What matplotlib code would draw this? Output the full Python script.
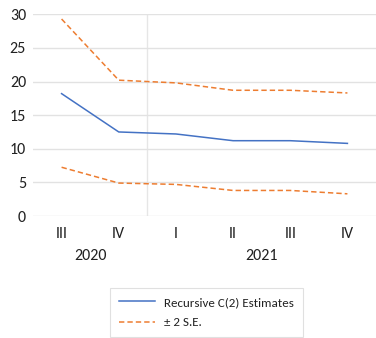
import matplotlib
matplotlib.use("Agg")
import matplotlib.pyplot as plt
from matplotlib.transforms import blended_transform_factory

quarters = ["III", "IV", "I", "II", "III", "IV"]
years = ["2020", "2021"]
estimate = [18.2, 12.5, 12.2, 11.2, 11.2, 10.8]
upper = [29.3, 20.2, 19.8, 18.7, 18.7, 18.3]
lower = [7.25, 4.9, 4.7, 3.8, 3.8, 3.3]

plt.rcParams['font.family'] = ['Carlito', 'Lato', 'DejaVu Sans']

W, H = 376, 338
fig = plt.figure(figsize=(W / 100, H / 100), dpi=100)
ax = fig.add_axes([33 / W, 1 - 216 / H, 1 - 33 / W, (216 - 14.3) / H])

x = list(range(len(quarters)))
blue = "#4472C4"
orange = "#ED7D31"

l1, = ax.plot(x, estimate, color=blue, lw=1.1, label="Recursive C(2) Estimates")
l2, = ax.plot(x, upper, color=orange, lw=1.1, ls=(0, (3.5, 2)), label="\u00b1 2 S.E.")
ax.plot(x, lower, color=orange, lw=1.1, ls=(0, (3.5, 2)))

ax.set_xlim(-0.5, len(quarters) - 0.5)
ax.set_ylim(0, 30)
ax.set_yticks(range(0, 31, 5))
ax.set_xticks(x)
ax.set_xticklabels(quarters)
ax.grid(axis='y', color='#e2e2e2', lw=1)
ax.set_axisbelow(True)
for s in ax.spines.values():
    s.set_visible(False)
ax.tick_params(length=0, labelsize=11.5, colors='#222222')
ax.tick_params(axis='x', pad=8)
ax.tick_params(axis='y', pad=5)

ax.axvline(1.5, ymin=0, ymax=1, color='#e6e6e6', lw=1, zorder=0)

tr = blended_transform_factory(ax.transData, ax.transAxes)
yr_y = -(256 - 216) / (216 - 14.3)
ax.text(0.5, yr_y, years[0], transform=tr, ha='center', va='center', fontsize=11.5, color='#222222')
ax.text(3.5, yr_y, years[1], transform=tr, ha='center', va='center', fontsize=11.5, color='#222222')

leg = fig.legend(handles=[l1, l2], loc='center',
                 bbox_to_anchor=(206.5 / W, 1 - 312.5 / H),
                 frameon=True, fancybox=False, fontsize=9.4,
                 handlelength=2.8, handletextpad=0.7, borderpad=0.7,
                 labelspacing=0.7, borderaxespad=0)
leg.get_frame().set_edgecolor('#d9d9d9')
leg.get_frame().set_linewidth(0.8)
for t in leg.get_texts():
    t.set_color('#222222')

fig.savefig("out.png", dpi=100)
